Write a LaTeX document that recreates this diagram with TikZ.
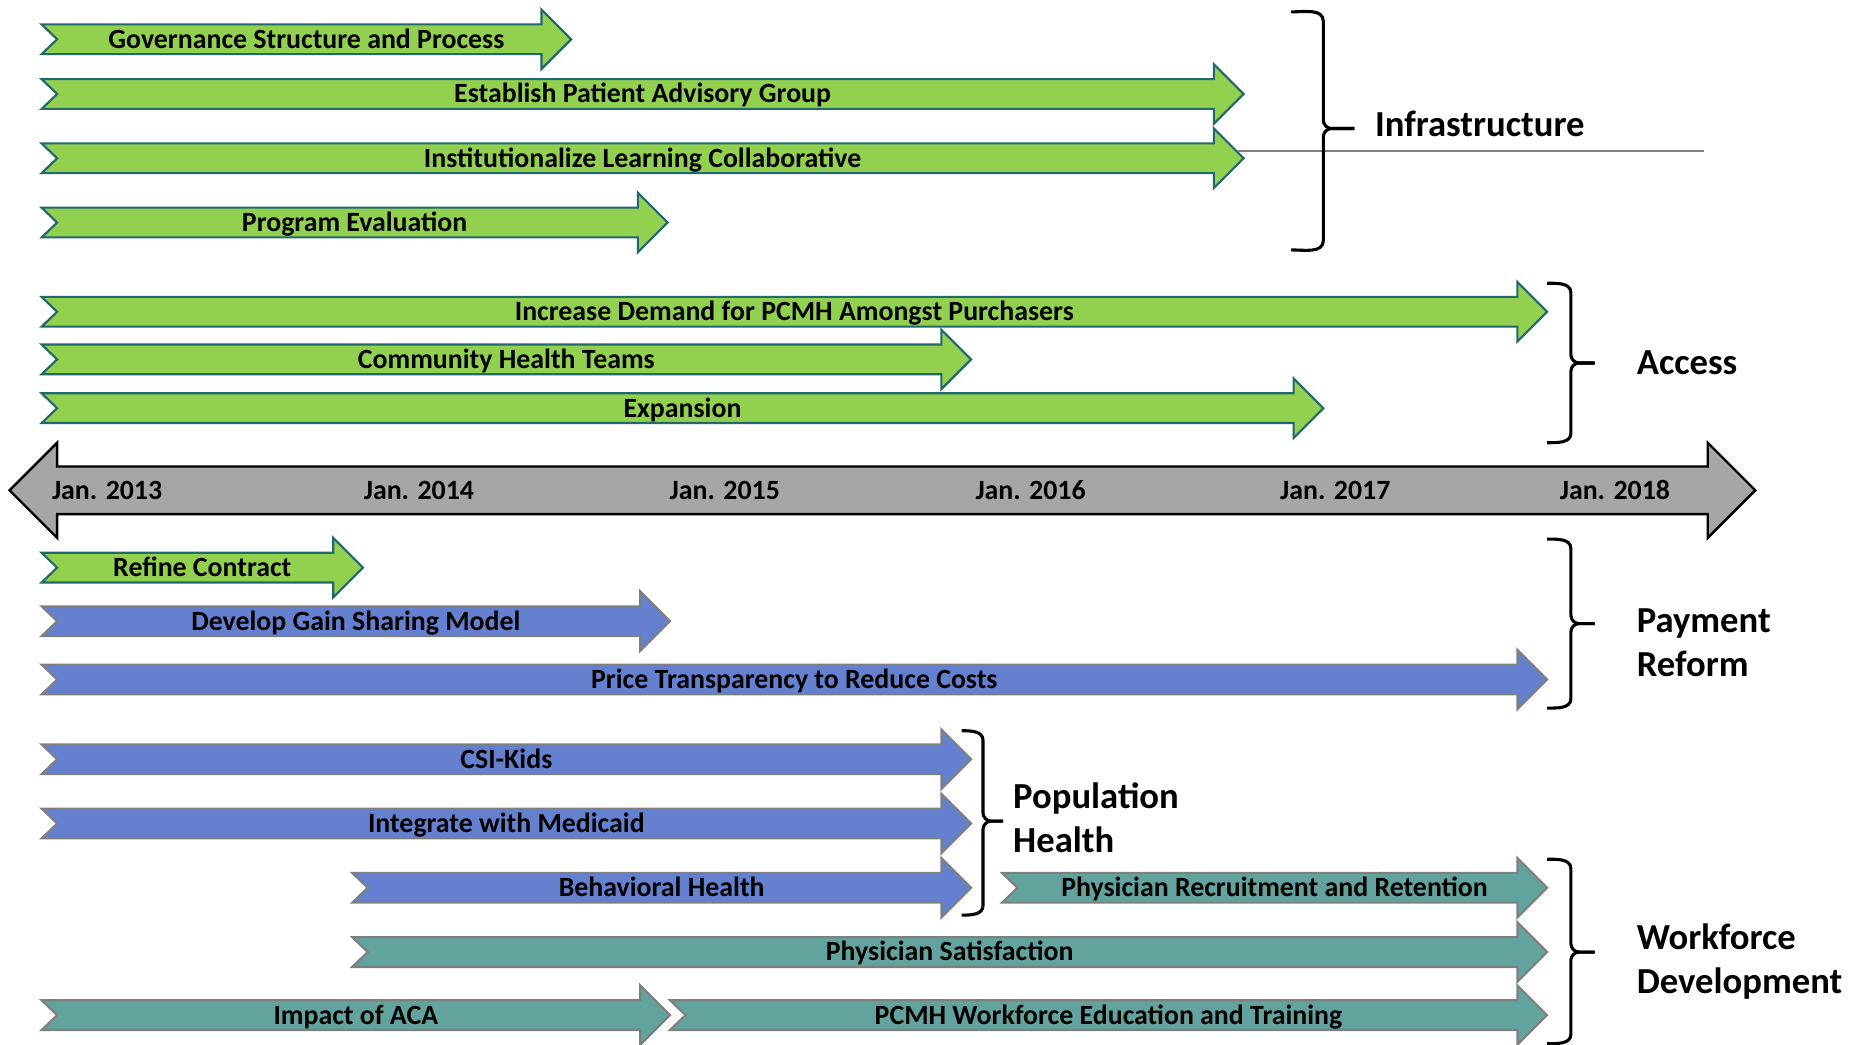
\documentclass[tikz,border=0pt]{standalone}
\usepackage{fontspec}
\setmainfont{Carlito}
\definecolor{grnf}{HTML}{92D050}
\definecolor{grnd}{HTML}{22686C}
\definecolor{bluf}{HTML}{6480CF}
\definecolor{tealf}{HTML}{62A39D}
\definecolor{bord}{HTML}{7F7F7F}
\definecolor{tlf}{HTML}{A6A6A6}
\tikzset{
  greenarrow/.style={fill=grnf,draw=grnd,line width=0.9pt,line join=miter},
  bluearrow/.style={fill=bluf,draw=bord,line width=0.9pt,line join=miter},
  tealarrow/.style={fill=tealf,draw=bord,line width=0.9pt,line join=miter},
  lbl/.style={font=\bfseries\fontsize{11.7}{13}\selectfont,inner sep=0pt,anchor=base},
  catlbl/.style={font=\bfseries\fontsize{15.4}{18.5}\selectfont,anchor=west,align=left,inner sep=0pt},
  brc/.style={draw=black,line width=1.3pt},
  thinline/.style={draw=bord,line width=0.6pt}
}
% #1 style, #2 x left, #3 x tip, #4 y centre, #5 name, #6 text
\newcommand{\tlarrow}[6]{%
  \draw[#1] (#2,#4-12.5) -- (#3-25,#4-12.5) -- (#3-25,#4-25) -- (#3,#4)
    -- (#3-25,#4+25) -- (#3-25,#4+12.5) -- (#2,#4+12.5) -- (#2+13,#4) -- cycle;
  \node[lbl] (#5) at ({(#2+#3)/2},#4+7.5) {#6};}
% #1 x0, #2 x1, #3 ytop, #4 ybot, #5 ymid, #6 xtip
\newcommand{\grpbrace}[6]{%
  \draw[brc] (#1,#3) to[out=0,in=90] (#2,#3+8) -- (#2,#5-7)
    to[out=-90,in=180] (#2+7,#5) -- (#6,#5);
  \draw[brc] (#6,#5) -- (#2+7,#5) to[out=180,in=90] (#2,#5+7)
    -- (#2,#4-8) to[out=-90,in=0] (#1,#4);}
\begin{document}
\begin{tikzpicture}[x=0.5pt,y=-0.5pt]
\useasboundingbox (0,0) rectangle (1568,878);
% Infrastructure
\tlarrow{greenarrow}{35}{480}{33}{gov}{Governance Structure and Process}
\tlarrow{greenarrow}{35}{1045}{79}{epag}{Establish Patient Advisory Group}
\tlarrow{greenarrow}{35}{1045}{133}{ilc}{Institutionalize Learning Collaborative}
\tlarrow{greenarrow}{35}{561}{187}{peval}{Program Evaluation}
\coordinate (gl1) at (1040,127);
\coordinate (gl2) at (1432,127);
\draw[thinline] (gl1) -- (gl2);
% Access
\tlarrow{greenarrow}{35}{1300}{262}{idem}{Increase Demand for PCMH Amongst Purchasers}
\tlarrow{greenarrow}{35}{816}{302}{cht}{Community Health Teams}
\tlarrow{greenarrow}{35}{1112}{343}{expn}{Expansion}
% Timeline
\draw[fill=tlf,draw=black,line width=1pt,line join=miter]
  (8,412) -- (48,372) -- (48,392) -- (1435,392) -- (1435,372) -- (1475,412)
  -- (1435,452) -- (1435,432) -- (48,432) -- (48,452) -- cycle;
\node[lbl] (y13) at (90,419.5) {Jan. 2013};
\node[lbl] (y14) at (352,419.5) {Jan. 2014};
\node[lbl] (y15) at (609,419.5) {Jan. 2015};
\node[lbl] (y16) at (866,419.5) {Jan. 2016};
\node[lbl] (y17) at (1122,419.5) {Jan. 2017};
\node[lbl] (y18) at (1357,419.5) {Jan. 2018};
% Payment reform
\tlarrow{greenarrow}{35}{305}{477}{refine}{Refine Contract}
\tlarrow{bluearrow}{35}{563}{522}{gain}{Develop Gain Sharing Model}
\tlarrow{bluearrow}{35}{1300}{571}{price}{Price Transparency to Reduce Costs}
% Population health
\tlarrow{bluearrow}{35}{816}{638}{csi}{CSI-Kids}
\tlarrow{bluearrow}{35}{816}{692}{medi}{Integrate with Medicaid}
\tlarrow{bluearrow}{296}{816}{746}{behav}{Behavioral Health}
% Workforce
\tlarrow{tealarrow}{842}{1300}{746}{recr}{Physician Recruitment and Retention}
\tlarrow{tealarrow}{296}{1300}{800}{sat}{Physician Satisfaction}
\tlarrow{tealarrow}{35}{563}{853}{aca}{Impact of ACA}
\tlarrow{tealarrow}{563}{1300}{853}{pcmh}{PCMH Workforce Education and Training}
% Braces
\grpbrace{1085}{1112}{10}{210}{108}{1138}
\grpbrace{1300}{1320}{238}{372}{305}{1340}
\grpbrace{1300}{1320}{453}{595}{524}{1340}
\grpbrace{808}{826}{614}{769}{690}{843}
\grpbrace{1300}{1320}{722}{877}{800}{1340}
% Category labels
\node[catlbl] (infra) at (1155,104) {Infrastructure};
\node[catlbl] (access) at (1375,305) {Access};
\node[catlbl] (pay) at (1375,540) {Payment\\Reform};
\node[catlbl] (pop) at (851,687) {Population\\Health};
\node[catlbl] (work) at (1375,808) {Workforce\\Development};
\end{tikzpicture}
\end{document}
